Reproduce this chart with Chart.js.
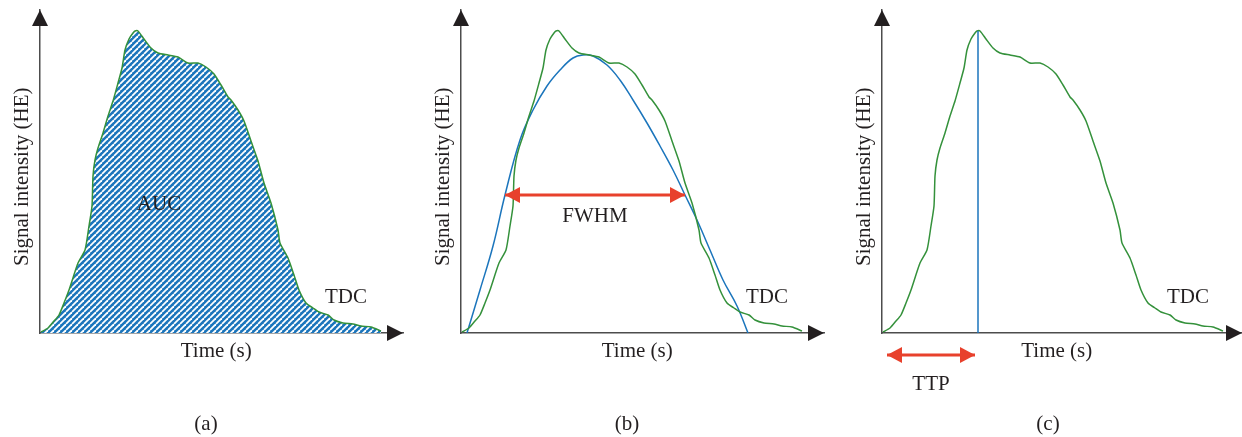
<!DOCTYPE html>
<html>
<head>
<meta charset="utf-8">
<script src="https://cdn.jsdelivr.net/npm/chart.js@4.4.0/dist/chart.umd.min.js"></script>
<style>
  html, body { margin: 0; padding: 0; background: #fff; }
  #wrap { position: relative; width: 1242px; height: 437px; overflow: hidden; }
  .panel { position: absolute; top: 0; }
  .tag { position: absolute; top: 411px; width: 60px; margin-left: -30px; text-align: center;
         font: 21px "Liberation Serif", serif; color: #231f20; }
</style>
</head>
<body>
<div id="wrap">
  <canvas id="pa" class="panel" style="left:0px" width="414" height="437"></canvas>
  <canvas id="pb" class="panel" style="left:421px" width="414" height="437"></canvas>
  <canvas id="pc" class="panel" style="left:842px" width="400" height="437"></canvas>
  <div class="tag" style="left:206px">(a)</div>
  <div class="tag" style="left:627px">(b)</div>
  <div class="tag" style="left:1048px">(c)</div>
</div>
<script>
// Time-density curve (TDC); same curve in all three panels.
const tdcTime = [1, 8, 14, 19, 24, 29, 38, 45, 49, 52, 53, 55, 58, 63, 68, 73, 78, 82, 85, 89,
  93, 95, 98, 104, 111, 118, 128, 138, 148, 158, 166, 174, 181, 188, 191, 198, 204, 211, 218, 224,
  231, 238, 240, 248, 254, 259, 266, 273, 279, 288, 294, 303, 313, 321, 331, 341];
const tdcSignal = [1, 5, 12, 18, 30, 43, 70, 83, 107, 127, 157, 173, 185, 200, 217, 232, 250, 265, 283, 294,
  300, 302, 302, 294, 285, 280, 278, 276, 270, 270, 266, 259, 248, 236, 233, 223, 212, 192, 172, 150,
  130, 103, 90, 75, 58, 43, 30, 25, 21, 18, 13, 10, 9, 7, 6, 2];

// Fitted curve in (b)
const fitTime = [6, 19, 32, 44, 59, 72, 86, 99, 112, 122, 132, 146, 159, 172, 186, 199, 212, 224, 236, 249, 262, 276, 287];
const fitSignal = [0, 43, 87, 138, 193, 223, 247, 263, 275, 278, 277, 268, 253, 233, 210, 187, 163, 138, 113, 83, 53, 27, 0];

// FWHM span in (b)
const fwhmTime = [44, 224];
const fwhmLevel = [138, 138];

// Time to peak in (c)
const peakTime = [96, 96];
const peakLevel = [0, 302];
const ttpTime = [5, 93];
const ttpLevel = [-22, -22];

const GREEN = '#34913b', BLUE = '#1b75bc', RED = '#e8412c', INK = '#231f20';
const FONT = '"Liberation Serif", serif';

const pts = (xs, ys) => xs.map((x, i) => ({ x, y: ys[i] }));

function hatch() {
  const s = 6;
  const c = document.createElement('canvas');
  c.width = s; c.height = s;
  const g = c.getContext('2d');
  g.fillStyle = BLUE;
  g.fillRect(0, 0, s, s);
  g.strokeStyle = '#fff';
  g.lineWidth = 1.8;
  for (const k of [-1, 0, 1]) {
    g.beginPath();
    g.moveTo(k * s, s);
    g.lineTo(k * s + s, 0);
    g.stroke();
  }
  return g.createPattern(c, 'repeat');
}

function head(ctx, x, y, dx, dy, len, half) {
  // triangle with tip at (x,y) pointing along (dx,dy)
  const px = -dy, py = dx;
  ctx.beginPath();
  ctx.moveTo(x, y);
  ctx.lineTo(x - dx * len + px * half, y - dy * len + py * half);
  ctx.lineTo(x - dx * len - px * half, y - dy * len - py * half);
  ctx.closePath();
  ctx.fill();
}

const marks = {
  id: 'marks',
  afterDatasetsDraw(chart, args, opts) {
    const ctx = chart.ctx;
    const { left, top, right, bottom } = chart.chartArea;
    ctx.save();
    ctx.fillStyle = INK;
    head(ctx, left, top, 0, -1, 16, 8);
    head(ctx, right, bottom, 1, 0, 16, 8);

    chart.data.datasets.forEach((ds, i) => {
      if (!ds.arrowHeads) return;
      const el = chart.getDatasetMeta(i).data;
      const a = el[0], b = el[el.length - 1];
      ctx.fillStyle = ds.borderColor;
      head(ctx, a.x, a.y, -1, 0, 15, 8);
      head(ctx, b.x, b.y, 1, 0, 15, 8);
    });

    const xs = chart.scales.x, ys = chart.scales.y;
    ctx.fillStyle = INK;
    ctx.font = '21px ' + FONT;
    ctx.textAlign = 'center';
    ctx.textBaseline = 'middle';
    (opts.labels || []).forEach(l => {
      ctx.fillText(l.text, xs.getPixelForValue(l.x), ys.getPixelForValue(l.y));
    });
    ctx.restore();
  }
};

function panel(id, datasets, labels, xMax, padRight) {
  return new Chart(document.getElementById(id), {
    type: 'line',
    data: { datasets },
    plugins: [marks],
    options: {
      responsive: false,
      animation: false,
      layout: { padding: { left: 0, top: 10, right: padRight, bottom: 73 } },
      elements: { point: { radius: 0 } },
      plugins: { legend: { display: false }, tooltip: { enabled: false }, marks: { labels } },
      scales: {
        x: {
          type: 'linear', min: 0, max: xMax,
          ticks: { display: false }, grid: { display: false },
          border: { display: true, color: '#4d4d4d', width: 1.5 },
          // trailing spaces nudge the centred title a little left, as in the figure
          title: { display: true, text: 'Time (s)  ', color: INK, font: { family: FONT, size: 21 }, padding: { top: 0, bottom: 0 } },
          afterFit: s => { s.height = 31; }
        },
        y: {
          type: 'linear', min: 0, max: 323,
          ticks: { display: false }, grid: { display: false },
          border: { display: true, color: '#4d4d4d', width: 1.5 },
          title: { display: true, text: 'Signal intensity (HE)  ', color: INK, font: { family: FONT, size: 21 }, padding: { top: 10, bottom: 0 } },
          afterFit: s => { s.width = 40; }
        }
      }
    }
  });
}

const tdcLine = extra => Object.assign({
  label: 'TDC', data: pts(tdcTime, tdcSignal), borderColor: GREEN, borderWidth: 1.5, tension: 0.2, fill: false
}, extra);

panel('pa', [
  tdcLine({ fill: 'origin', backgroundColor: hatch() })
], [{ text: 'AUC', x: 119, y: 129 }, { text: 'TDC', x: 306, y: 36 }], 363, 11);

panel('pb', [
  { label: 'FWHM', data: pts(fwhmTime, fwhmLevel), borderColor: RED, borderWidth: 3, arrowHeads: true },
  tdcLine(),
  { label: 'Fit', data: pts(fitTime, fitSignal), borderColor: BLUE, borderWidth: 1.5, tension: 0.4 }
], [{ text: 'FWHM', x: 134, y: 117 }, { text: 'TDC', x: 306, y: 36 }], 363, 11);

panel('pc', [
  { label: 'TTP', data: pts(ttpTime, ttpLevel), borderColor: RED, borderWidth: 3, arrowHeads: true, clip: false },
  { label: 'Peak', data: pts(peakTime, peakLevel), borderColor: BLUE, borderWidth: 1.5 },
  tdcLine()
], [{ text: 'TDC', x: 306, y: 36 }, { text: 'TTP', x: 49, y: -51 }], 360, 0);
</script>
</body>
</html>
